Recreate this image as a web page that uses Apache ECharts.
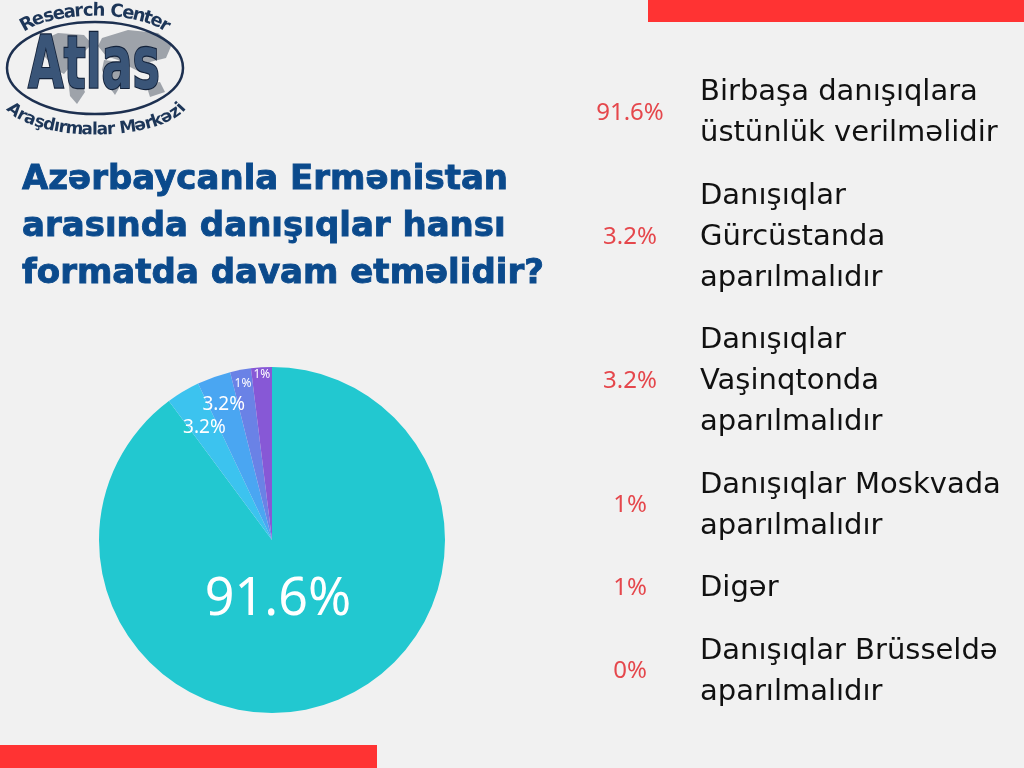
<!DOCTYPE html>
<html>
<head>
<meta charset="utf-8">
<title>Azərbaycanla Ermənistan arasında danışıqlar</title>
<style>
  html, body { margin: 0; padding: 0; background: #f1f1f1; }
  #main { width: 1024px; height: 768px; }
</style>
<script src="https://cdn.jsdelivr.net/npm/echarts@6/dist/echarts.min.js"></script>
</head>
<body>
<div id="main"></div>
<script>
// sorğu nəticələri
var categories = [
  'Birbaşa danışıqlara\nüstünlük verilməlidir',
  'Danışıqlar\nGürcüstanda\naparılmalıdır',
  'Danışıqlar\nVaşinqtonda\naparılmalıdır',
  'Danışıqlar Moskvada\naparılmalıdır',
  'Digər',
  'Danışıqlar Brüsseldə\naparılmalıdır'
];
var shares = [91.6, 3.2, 3.2, 1, 1, 0];
var shareLabels = ['91.6%', '3.2%', '3.2%', '1%', '1%', '0%'];

// rənglər və yerləşmə
var sliceColors = ['#22c8d0', '#3cc3ef', '#4aa6f2', '#6a82e6', '#8758d6', '#bbbbbb'];
var labelRadius = [0.35, 0.76, 0.83, 0.92, 0.96, 0.9];
var PIE_CX = 272, PIE_CY = 540, PIE_R = 173;
var LINE_H = 41;

// loqo üçün əyri yazı: hərfləri ellips boyunca düzür
function arcText(str, cx, cy, rx, ry, t0, bottom, fontSize) {
  var N = 400, ts = [], ss = [0];
  for (var k = 0; k <= N; k++) ts.push(-t0 + 2 * t0 * k / N);
  for (var k = 1; k <= N; k++) {
    var t = (ts[k] + ts[k - 1]) / 2;
    var ds = Math.sqrt(Math.pow(rx * Math.cos(t), 2) + Math.pow(ry * Math.sin(t), 2)) * (ts[k] - ts[k - 1]);
    ss.push(ss[k - 1] + ds);
  }
  var total = ss[N];
  var wOf = function(c) {
    if ('iılj'.indexOf(c) >= 0) return 0.32;
    if ('rtf'.indexOf(c) >= 0) return 0.48;
    if (c === ' ') return 0.36;
    if (c === 'm') return 1.0;
    if (c === 'M') return 0.95;
    if (c === c.toUpperCase()) return 0.78;
    return 0.64;
  };
  var widths = str.split('').map(wOf);
  var sum = widths.reduce(function(a, b) { return a + b; }, 0);
  var acc = 0, els = [];
  str.split('').forEach(function(c, i) {
    var target = (acc + widths[i] / 2) / sum * total;
    acc += widths[i];
    var k = 1;
    while (k < N && ss[k] < target) k++;
    var t = ts[k];
    var x = cx + rx * Math.sin(t);
    var y = bottom ? cy + ry * Math.cos(t) : cy - ry * Math.cos(t);
    var ang = Math.atan2(ry * Math.sin(t), rx * Math.cos(t));
    els.push({
      type: 'text', x: x, y: y, rotation: bottom ? ang : -ang, silent: true,
      style: {
        text: c, align: 'center', verticalAlign: 'middle', fill: '#1d3658',
        font: 'bold ' + fontSize + 'px "DejaVu Sans", sans-serif'
      }
    });
  });
  return els;
}

(function() {
  // 1. qrafiki yaradırıq
  var myChart = echarts.init(document.getElementById('main'));

  var pieData = categories.map(function(name, i) {
    var v = shares[i];
    return {
      name: name,
      // 0 olan pay çəkilmir, amma siyahıda qalır
      value: v === 0 ? null : v,
      itemStyle: { color: sliceColors[i] },
      label: { fontSize: v > 50 ? 52 : (v >= 3 ? 19 : 12) }
    };
  });

  var logo = [
    { type: 'polygon', silent: true, shape: { points: [[38,42],[58,33],[84,35],[92,44],[82,54],[72,64],[64,74],[56,70],[46,58],[36,50]] }, style: { fill: '#9ea3aa' } },
    { type: 'polygon', silent: true, shape: { points: [[68,78],[80,80],[85,92],[77,104],[70,96]] }, style: { fill: '#9ea3aa' } },
    { type: 'polygon', silent: true, shape: { points: [[102,38],[128,30],[158,33],[172,44],[166,58],[150,62],[140,72],[128,66],[118,60],[106,56],[98,46]] }, style: { fill: '#9ea3aa' } },
    { type: 'polygon', silent: true, shape: { points: [[104,60],[120,62],[125,78],[115,95],[108,85],[102,70]] }, style: { fill: '#9ea3aa' } },
    { type: 'polygon', silent: true, shape: { points: [[146,84],[160,82],[165,92],[150,97]] }, style: { fill: '#9ea3aa' } },
    { type: 'ellipse', silent: true, shape: { cx: 95, cy: 68, rx: 88, ry: 46 }, style: { fill: 'none', stroke: '#1d3050', lineWidth: 2.5 } },
    {
      type: 'text', silent: true, x: 94, y: 69, scaleX: 0.8, scaleY: 1.15,
      style: {
        text: 'Atlas', align: 'center', verticalAlign: 'middle',
        font: 'bold 64px "Liberation Sans Narrow", "DejaVu Sans Condensed", sans-serif',
        fill: '#3a5578', stroke: '#13223a', lineWidth: 2
      }
    }
  ]
    .concat(arcText('Research Center', 95, 42, 82, 31, 1.1, false, 18))
    .concat(arcText('Araşdırmalar Mərkəzi', 96, 97, 90, 33, 1.3, true, 17));

  var bars = [
    { type: 'rect', silent: true, shape: { x: 648, y: 0, width: 376, height: 22 }, style: { fill: '#ff3333' } },
    { type: 'rect', silent: true, shape: { x: 0, y: 745, width: 377, height: 23 }, style: { fill: '#ff3333' } }
  ];

  // faiz yazıları üçün hər sətir sayına görə üslub
  var pctRich = {};
  [1, 2, 3].forEach(function(n) {
    pctRich['p' + n] = {
      fontFamily: '"Noto Sans", sans-serif', fontSize: 24, color: '#e5474c',
      width: 80, align: 'center', lineHeight: LINE_H * n
    };
  });

  // 2. konfiqurasiya
  var option = {
    backgroundColor: '#f1f1f1',
    animation: false,
    title: {
      text: 'Azərbaycanla Ermənistan\narasında danışıqlar hansı\nformatda davam etməlidir?',
      left: 22,
      top: 157,
      padding: 0,
      textStyle: {
        fontFamily: '"DejaVu Sans", sans-serif',
        fontWeight: 'bold',
        fontSize: 34,
        lineHeight: 47,
        color: '#0b4a8c',
        textBorderColor: '#0b4a8c',
        textBorderWidth: 0.9
      }
    },
    legend: [
      {
        // adlar
        data: categories,
        orient: 'vertical',
        left: 695,
        top: 72,
        padding: 0,
        itemGap: 21.5,
        itemWidth: 0,
        icon: 'none',
        selectedMode: false,
        textStyle: {
          fontFamily: '"DejaVu Sans", sans-serif',
          fontSize: 29,
          lineHeight: LINE_H,
          color: '#111111',
          backgroundColor: 'rgba(0,0,0,0)'
        }
      },
      {
        // faizlər, adların ortasına düzülür
        data: categories,
        orient: 'vertical',
        left: 585,
        top: 72,
        padding: 0,
        itemGap: 21.5,
        itemWidth: 0,
        icon: 'none',
        selectedMode: false,
        formatter: function(name) {
          var i = categories.indexOf(name);
          var n = name.split('\n').length;
          return '{p' + n + '|' + shareLabels[i] + '}';
        },
        textStyle: {
          backgroundColor: 'rgba(0,0,0,0)',
          rich: pctRich
        }
      }
    ],
    series: [
      {
        name: 'Danışıqların formatı',
        type: 'pie',
        center: [PIE_CX, PIE_CY],
        radius: PIE_R,
        startAngle: 90,
        minAngle: 7,
        label: {
          position: 'inside',
          color: '#ffffff',
          fontFamily: '"Noto Sans", sans-serif',
          formatter: function(p) { return shareLabels[p.dataIndex]; }
        },
        labelLine: { show: false },
        // yazıları dilimin xarici kənarına yaxın çəkirik
        labelLayout: function(p) {
          var i = p.dataIndex;
          if (i === 0) {
            return { x: PIE_CX + 0.035 * PIE_R, y: PIE_CY + 0.35 * PIE_R };
          }
          var r = p.labelRect;
          var dx = r.x + r.width / 2 - PIE_CX;
          var dy = r.y + r.height / 2 - PIE_CY;
          var len = Math.sqrt(dx * dx + dy * dy) || 1;
          return {
            x: PIE_CX + dx / len * labelRadius[i] * PIE_R,
            y: PIE_CY + dy / len * labelRadius[i] * PIE_R
          };
        },
        emphasis: { scale: false },
        data: pieData
      }
    ],
    graphic: { elements: bars.concat(logo) }
  };

  // 3. konfiqurasiyanı veririk
  myChart.setOption(option);
  // 4. pəncərə dəyişəndə qrafik də dəyişsin
  window.addEventListener('resize', function() {
    myChart.resize();
  });
})();
</script>
</body>
</html>
